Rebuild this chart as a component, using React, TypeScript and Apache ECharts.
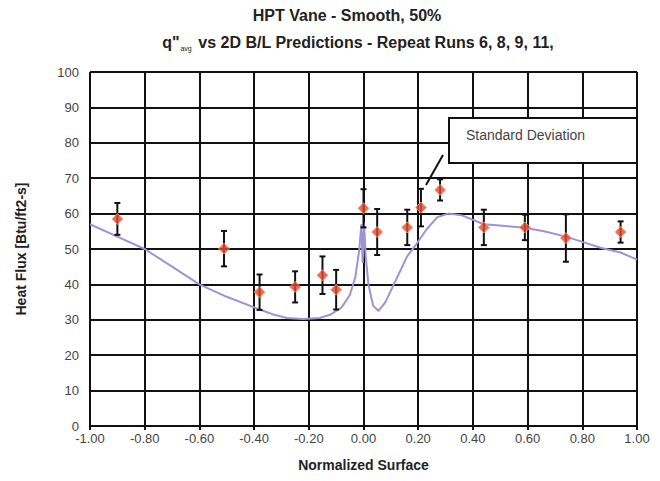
import React, { useEffect, useRef } from "react";
import * as echarts from "echarts";

// Measured points (mean) and standard deviation
const pointX = [-0.90, -0.51, -0.38, -0.25, -0.15, -0.10, 0.00, 0.05, 0.16, 0.21, 0.28, 0.44, 0.59, 0.74, 0.94];
const pointY = [58.5, 50.1, 37.8, 39.3, 42.6, 38.5, 61.5, 54.8, 56.1, 61.7, 66.7, 56.1, 56.1, 53.1, 54.8];
const pointErr = [4.5, 5.0, 5.0, 4.4, 5.3, 5.6, 5.4, 6.5, 5.0, 5.3, 3.0, 5.0, 3.6, 6.7, 3.0];

// 2D B/L prediction curve
const curveX = [
  -1.0, -0.9, -0.8, -0.7, -0.6, -0.5, -0.4, -0.33, -0.28, -0.22, -0.16, -0.12, -0.08, -0.05,
  -0.03, -0.015, -0.008, -0.003, 0.002, 0.008, 0.018, 0.035, 0.055, 0.08, 0.12, 0.16, 0.19,
  0.23, 0.27, 0.31, 0.36, 0.44, 0.52, 0.59, 0.66, 0.74, 0.8, 0.87, 0.94, 1.0,
];
const curveY = [
  57.0, 53.5, 50.0, 45.0, 40.0, 36.5, 33.5, 31.5, 30.5, 30.2, 30.5, 31.5, 33.5, 37.0,
  42.0, 50.0, 57.0, 46.0, 57.5, 48.0, 40.0, 34.0, 32.5, 35.0, 41.5, 48.0, 51.0,
  55.5, 59.0, 60.0, 59.5, 57.0, 56.5, 56.0, 55.0, 53.5, 52.0, 50.3, 49.0, 47.0,
];

const titleLine1 = "HPT Vane - Smooth, 50%";
const titleLine2 = " vs 2D B/L Predictions - Repeat Runs 6, 8, 9, 11,";
const xName = "Normalized Surface";
const yName = "Heat Flux [Btu/ft2-s]";
const noteText = "Standard Deviation";

export default function App() {
  const ref = useRef<HTMLDivElement>(null);
  useEffect(() => {
    document.body.style.margin = "0";
    if (!ref.current) return;
    const chart = echarts.init(ref.current, null, { renderer: "svg" });
    const font = "'Liberation Sans', Arial, sans-serif";
    const gridColor = "#111";
    const curveData = curveX.map((x, i) => [x, curveY[i]]);
    const pts = pointX.map((x, i) => [x, pointY[i]]);
    const errs = pointX.map((x, i) => [x, pointY[i] - pointErr[i], pointY[i] + pointErr[i]]);

    chart.setOption({
      animation: false,
      backgroundColor: "#ffffff",
      grid: { left: 90, right: 23, top: 72, bottom: 55, show: false },
      xAxis: {
        type: "value",
        min: -1,
        max: 1,
        interval: 0.2,
        name: xName,
        nameLocation: "middle",
        nameGap: 32,
        nameTextStyle: { fontFamily: font, fontWeight: "bold", fontSize: 14, color: "#222" },
        axisLine: { show: true, onZero: false, lineStyle: { color: gridColor, width: 2 } },
        axisTick: { show: true, length: 4, lineStyle: { color: gridColor, width: 2 } },
        axisLabel: {
          fontFamily: font,
          fontSize: 13,
          color: "#444",
          margin: 6,
          formatter: (v: number) => v.toFixed(2),
        },
        splitLine: { show: true, lineStyle: { color: gridColor, width: 2 } },
      },
      yAxis: {
        type: "value",
        min: 0,
        max: 100,
        interval: 10,
        name: yName,
        nameLocation: "middle",
        nameRotate: 90,
        nameGap: 62,
        nameTextStyle: { fontFamily: font, fontWeight: "bold", fontSize: 14, color: "#222" },
        axisLine: { show: true, lineStyle: { color: gridColor, width: 2 } },
        axisTick: { show: false },
        axisLabel: { fontFamily: font, fontSize: 13, color: "#444", margin: 11 },
        splitLine: { show: true, lineStyle: { color: gridColor, width: 2 } },
      },
      series: [
        {
          type: "line",
          data: curveData,
          showSymbol: false,
          smooth: false,
          lineStyle: { color: "#9d93d6", width: 2 },
          z: 3,
        },
        {
          type: "custom",
          data: errs,
          encode: { x: 0, y: [1, 2] },
          z: 4,
          renderItem: (params: any, api: any) => {
            const x = api.value(0);
            const top = api.coord([x, api.value(2)]);
            const bot = api.coord([x, api.value(1)]);
            const w = 3;
            const st = { stroke: "#111", lineWidth: 2 };
            return {
              type: "group",
              children: [
                { type: "line", shape: { x1: top[0], y1: top[1], x2: bot[0], y2: bot[1] }, style: st },
                { type: "line", shape: { x1: top[0] - w, y1: top[1], x2: top[0] + w, y2: top[1] }, style: st },
                { type: "line", shape: { x1: bot[0] - w, y1: bot[1], x2: bot[0] + w, y2: bot[1] }, style: st },
              ],
            };
          },
        },
        {
          type: "scatter",
          data: pts,
          symbol: "diamond",
          symbolSize: 11,
          itemStyle: { color: "#e8472b", borderColor: "#f4a07a", borderWidth: 1 },
          z: 5,
        },
      ],
      graphic: [
        {
          type: "text",
          x: 347,
          y: 15,
          z: 100,
          style: {
            text: titleLine1,
            font: `bold 16px ${font}`,
            fill: "#222",
            align: "center",
            verticalAlign: "middle",
          },
        },
        {
          type: "text",
          x: 358,
          y: 42,
          z: 100,
          style: {
            text: `{m|q"}{s|avg}{m|${titleLine2}}`,
            fill: "#222",
            align: "center",
            verticalAlign: "middle",
            rich: {
              m: { fontFamily: font, fontWeight: "bold", fontSize: 16, fill: "#222", lineHeight: 20, verticalAlign: "middle" },
              s: { fontFamily: font, fontSize: 7, fill: "#222", lineHeight: 20, verticalAlign: "bottom", padding: [0, 2, 0, 1] },
            },
          },
        },
        {
          type: "rect",
          z: 100,
          shape: { x: 449, y: 118, width: 188, height: 45 },
          style: { fill: "#ffffff", stroke: "#111", lineWidth: 2 },
        },
        {
          type: "text",
          x: 466,
          y: 135,
          z: 101,
          style: {
            text: noteText,
            font: `14px ${font}`,
            fill: "#444",
            align: "left",
            verticalAlign: "middle",
          },
        },
        {
          type: "line",
          z: 100,
          shape: { x1: 443, y1: 155, x2: 426, y2: 185 },
          style: { stroke: "#111", lineWidth: 2 },
        },
      ],
    });
    return () => chart.dispose();
  }, []);
  return (
    <div
      ref={ref}
      style={{ position: "absolute", left: 0, top: 0, width: 660, height: 481, background: "#fff" }}
    />
  );
}
